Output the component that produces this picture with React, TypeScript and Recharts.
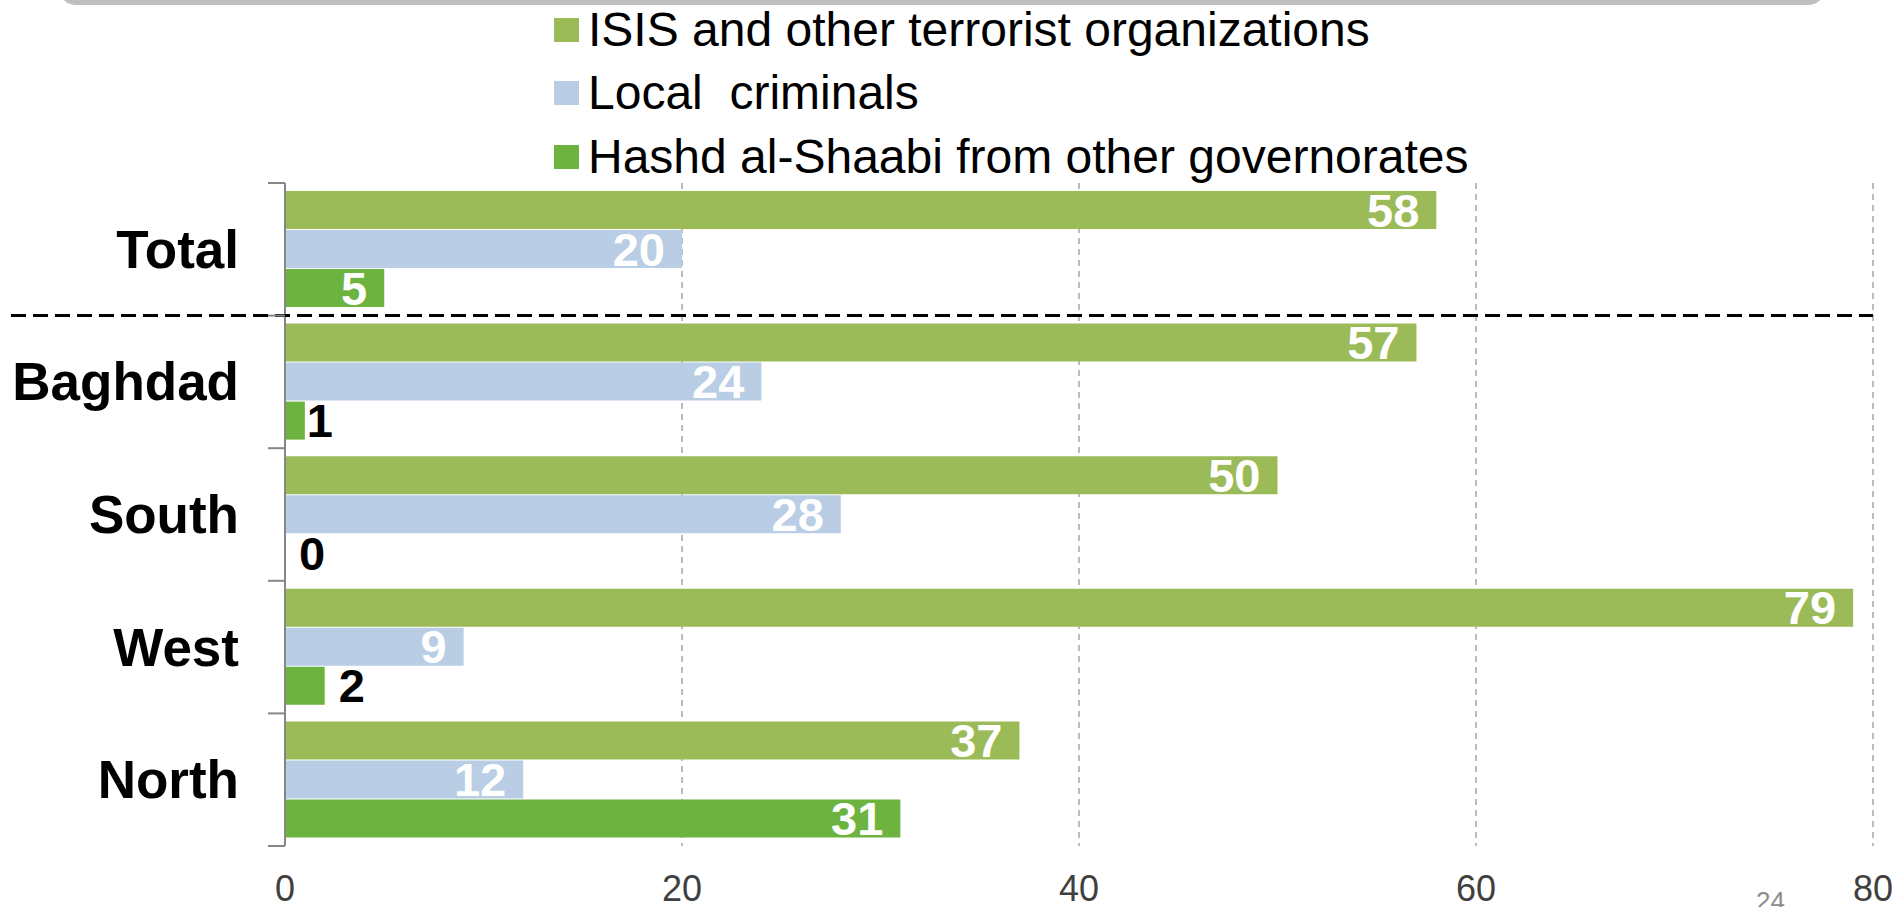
import React from "react";
import { Bar, BarChart, CartesianGrid, LabelList, XAxis, YAxis } from "recharts";

const regions = ["Total", "Baghdad", "South", "West", "North"];
const isis = [58, 57, 50, 79, 37];
const localCriminals = [20, 24, 28, 9, 12];
const hashd = [5, 1, 0, 2, 31];
const xTicks = [0, 20, 40, 60, 80];

const seriesNames = [
  "ISIS and other terrorist organizations",
  "Local  criminals",
  "Hashd al-Shaabi from other governorates",
];
const seriesColors = ["#9BBB59", "#B9CDE5", "#6DB33F"];

const data = regions.map((name, i) => ({
  name,
  isis: isis[i],
  local: localCriminals[i],
  hashd: hashd[i],
}));

const W = 1897;
const H = 907;
const PLOT_TOP = 183;
const PLOT_BOTTOM = 846;
const PLOT_LEFT = 285;
const PLOT_RIGHT = 1873;
const BAND = (PLOT_BOTTOM - PLOT_TOP) / regions.length;
const FONT = "Arial, 'Liberation Sans', sans-serif";

const RegionTick = (props: any) => {
  const { y, payload, index } = props;
  const last = index === regions.length - 1;
  return (
    <g>
      <line x1={PLOT_LEFT - 17} x2={PLOT_LEFT} y1={y - BAND / 2} y2={y - BAND / 2} stroke="#868686" strokeWidth={2} />
      {last && (
        <line x1={PLOT_LEFT - 17} x2={PLOT_LEFT} y1={y + BAND / 2} y2={y + BAND / 2} stroke="#868686" strokeWidth={2} />
      )}
      {index === 0 && (
        <line
          x1={11}
          x2={PLOT_RIGHT}
          y1={y + BAND / 2}
          y2={y + BAND / 2}
          stroke="#000"
          strokeWidth={3}
          strokeDasharray="15 7"
        />
      )}
      <text
        x={PLOT_LEFT - 46}
        y={y}
        textAnchor="end"
        dominantBaseline="central"
        fontFamily={FONT}
        fontWeight="bold"
        fontSize={53}
        fill="#000"
      >
        {payload.value}
      </text>
    </g>
  );
};

const ValueTick = (props: any) => {
  const { x, y, payload } = props;
  return (
    <text x={x} y={y} dy="0.7em" textAnchor="middle" fontFamily={FONT} fontSize={36} fill="#404040">
      {payload.value}
    </text>
  );
};

const BarLabel = (props: any) => {
  const { x, y, width, height, value } = props;
  const inside = width > 60;
  const w = value === 0 ? 0 : width;
  return (
    <text
      x={inside ? x + w - 17 : x + w + (value === 1 ? 2 : 14)}
      y={y + height / 2}
      textAnchor={inside ? "end" : "start"}
      dominantBaseline="central"
      fontFamily={FONT}
      fontWeight="bold"
      fontSize={47}
      fill={inside ? "#fff" : "#000"}
    >
      {value}
    </text>
  );
};

export default function App() {
  return (
    <div style={{ position: "absolute", left: 0, top: 0, width: W, height: H, background: "#fff", overflow: "hidden" }}>
      <div
        style={{
          position: "absolute",
          left: 60,
          top: -25,
          width: 1764,
          height: 30,
          background: "#bfbfbf",
          borderRadius: 22,
        }}
      />
      <div style={{ position: "absolute", left: 554, top: -2, fontFamily: FONT }}>
        {seriesNames.map((name, i) => (
          <div key={name} style={{ display: "flex", alignItems: "center", height: 63.5 }}>
            <span style={{ display: "inline-block", width: 25, height: 24, background: seriesColors[i], marginRight: 9 }} />
            <span style={{ fontSize: 48, color: "#000", whiteSpace: "pre", lineHeight: 1 }}>{name}</span>
          </div>
        ))}
      </div>
      <BarChart
        width={W}
        height={H}
        data={data}
        layout="vertical"
        margin={{ top: PLOT_TOP, right: W - PLOT_RIGHT, bottom: 0, left: 0 }}
        barCategoryGap={8}
        barGap={1}
      >
        <CartesianGrid horizontal={false} stroke="#a6a6a6" strokeWidth={1.5} strokeDasharray="6 5" />
        <XAxis
          type="number"
          domain={[0, 80]}
          ticks={xTicks}
          axisLine={false}
          tickLine={false}
          tickSize={0}
          tickMargin={30}
          height={H - PLOT_BOTTOM}
          tick={<ValueTick />}
        />
        <YAxis
          type="category"
          dataKey="name"
          width={PLOT_LEFT}
          axisLine={{ stroke: "#868686", strokeWidth: 2 }}
          tickLine={false}
          tickSize={0}
          tick={<RegionTick />}
        />
        <Bar dataKey="isis" name={seriesNames[0]} fill={seriesColors[0]} isAnimationActive={false}>
          <LabelList dataKey="isis" content={<BarLabel />} />
        </Bar>
        <Bar dataKey="local" name={seriesNames[1]} fill={seriesColors[1]} isAnimationActive={false}>
          <LabelList dataKey="local" content={<BarLabel />} />
        </Bar>
        <Bar dataKey="hashd" name={seriesNames[2]} fill={seriesColors[2]} minPointSize={1} isAnimationActive={false}>
          <LabelList dataKey="hashd" content={<BarLabel />} />
        </Bar>
      </BarChart>
      <div
        style={{
          position: "absolute",
          left: 1756,
          top: 886,
          fontFamily: FONT,
          fontSize: 26,
          color: "#8c8c8c",
        }}
      >
        24
      </div>
    </div>
  );
}
